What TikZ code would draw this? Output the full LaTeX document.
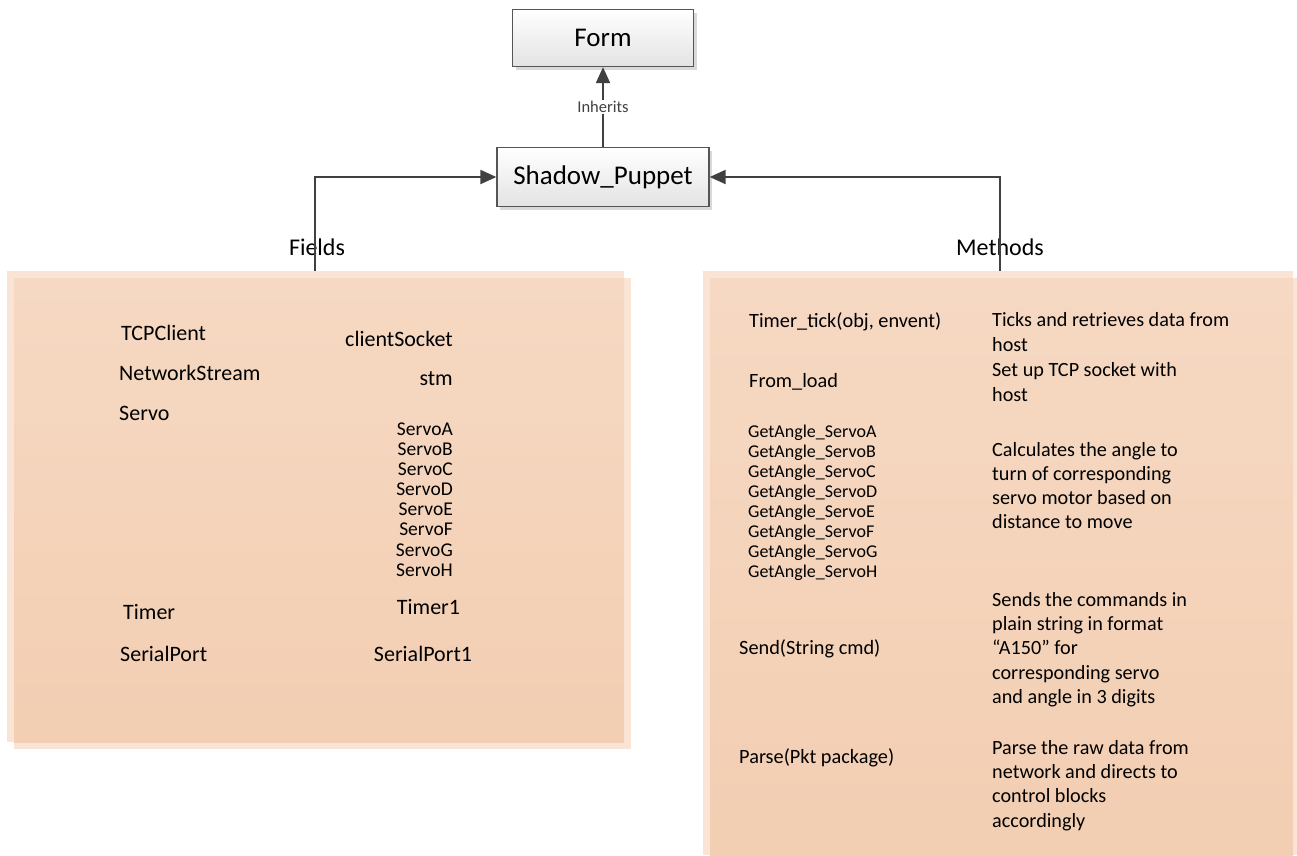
\documentclass[tikz,border=0pt]{standalone}
\usepackage{fontspec}
\setmainfont{Carlito}
\usetikzlibrary{positioning,arrows.meta,shadows}
\definecolor{PanelEdge}{RGB}{249,228,213}
\definecolor{PanelTop}{RGB}{246,217,195}
\definecolor{PanelBottom}{RGB}{242,206,178}
\definecolor{ConnGray}{RGB}{64,64,64}
\definecolor{BoxEdge}{RGB}{85,85,85}

\begin{document}
\begin{tikzpicture}[x=1pt, y=-1pt, >={Stealth[length=16pt,width=14pt,inset=0pt]}, font=\fontsize{22}{26}\selectfont]
    \tikzstyle{classbox} = [rectangle, draw=BoxEdge, line width=1.3pt, top color=white, bottom color=black!11, inner sep=0pt, font=\fontsize{27}{32}\selectfont, drop shadow={opacity=0.3, shadow xshift=3pt, shadow yshift=-3pt}]
    \tikzstyle{conn} = [line width=2pt, ->, color=ConnGray]
    \tikzstyle{field} = [inner sep=0pt, anchor=west]
    \tikzstyle{method} = [inner sep=0pt, anchor=west, font=\fontsize{20.3}{24}\selectfont]
    \tikzstyle{note} = [inner sep=0pt, anchor=west, align=left, font=\fontsize{20.2}{24.3}\selectfont]

    \useasboundingbox (0,0) rectangle (1297,855);

    \fill[PanelEdge] (7,271) rectangle (624,742);
    \fill[PanelEdge] (14,278) rectangle (631,749);
    \shade[top color=PanelTop, bottom color=PanelBottom] (14,278) rectangle (624,742);
    \fill[PanelEdge] (703,271) rectangle (1293,855);
    \fill[PanelEdge] (710,278) rectangle (1297,855);
    \shade[top color=PanelTop, bottom color=PanelBottom] (710,278) rectangle (1293,855);

    \node [classbox, minimum width=181pt, minimum height=57pt] (form) at (603,38) {Form};
    \node [classbox, minimum width=212pt, minimum height=59pt] (puppet) at (603,177) {Shadow\_Puppet};

    \draw [conn] (puppet) -- node [fill=white, inner sep=1pt, font=\fontsize{16.5}{19}\selectfont] (inherits) {Inherits} (form);

    \node [font=\fontsize{24}{28}\selectfont] (fields) at (317,247) {Fields};
    \node [font=\fontsize{24}{28}\selectfont] (methods) at (1000,247) {Methods};
    \coordinate (fieldsTop) at (315,271);
    \coordinate (methodsTop) at (1000,271);
    \draw [conn] (fieldsTop) |- (puppet.west);
    \draw [conn] (methodsTop) |- (puppet.east);

    \node [field] (tcp) at (121,333) {TCPClient};
    \node [field] (netstream) at (119,373) {NetworkStream};
    \node [field] (servo) at (119,413) {Servo};
    \node [field] (timer) at (123,612) {Timer};
    \node [field] (serial) at (120,654) {SerialPort};

    \node [inner sep=0pt, anchor=east] (socket) at (453,339) {clientSocket};
    \node [inner sep=0pt, anchor=east] (stm) at (453,379) {stm};
    \node [inner sep=0pt, anchor=east, align=right, font=\fontsize{19.5}{20.1}\selectfont] (servos) at (453,499.5) {ServoA\\ServoB\\ServoC\\ServoD\\ServoE\\ServoF\\ServoG\\ServoH};
    \node [inner sep=0pt] (timer1) at (428.5,607) {Timer1};
    \node [inner sep=0pt] (serial1) at (423,654) {SerialPort1};

    \node [method] (tick) at (749,322) {Timer\_tick(obj, envent)};
    \node [method] (load) at (749,382) {From\_load};
    \node [method, align=left, font=\fontsize{18}{20}\selectfont] (angles) at (748,503) {GetAngle\_ServoA\\GetAngle\_ServoB\\GetAngle\_ServoC\\GetAngle\_ServoD\\GetAngle\_ServoE\\GetAngle\_ServoF\\GetAngle\_ServoG\\GetAngle\_ServoH};
    \node [method] (send) at (739,649) {Send(String cmd)};
    \node [method] (parse) at (739,758) {Parse(Pkt package)};

    \node [note] (ticknote) at (992,332) {Ticks and retrieves data from\\host};
    \node [note] (loadnote) at (992,382) {Set up TCP socket with\\host};
    \node [note] (anglenote) at (992,485.5) {Calculates the angle to\\turn of corresponding\\servo motor based on\\distance to move};
    \node [note] (sendnote) at (992,649.5) {Sends the commands in\\plain string in format\\“A150” for\\corresponding servo\\and angle in 3 digits};
    \node [note] (parsenote) at (992,785.5) {Parse the raw data from\\network and directs to\\control blocks\\accordingly};
  \end{tikzpicture}
\end{document}
